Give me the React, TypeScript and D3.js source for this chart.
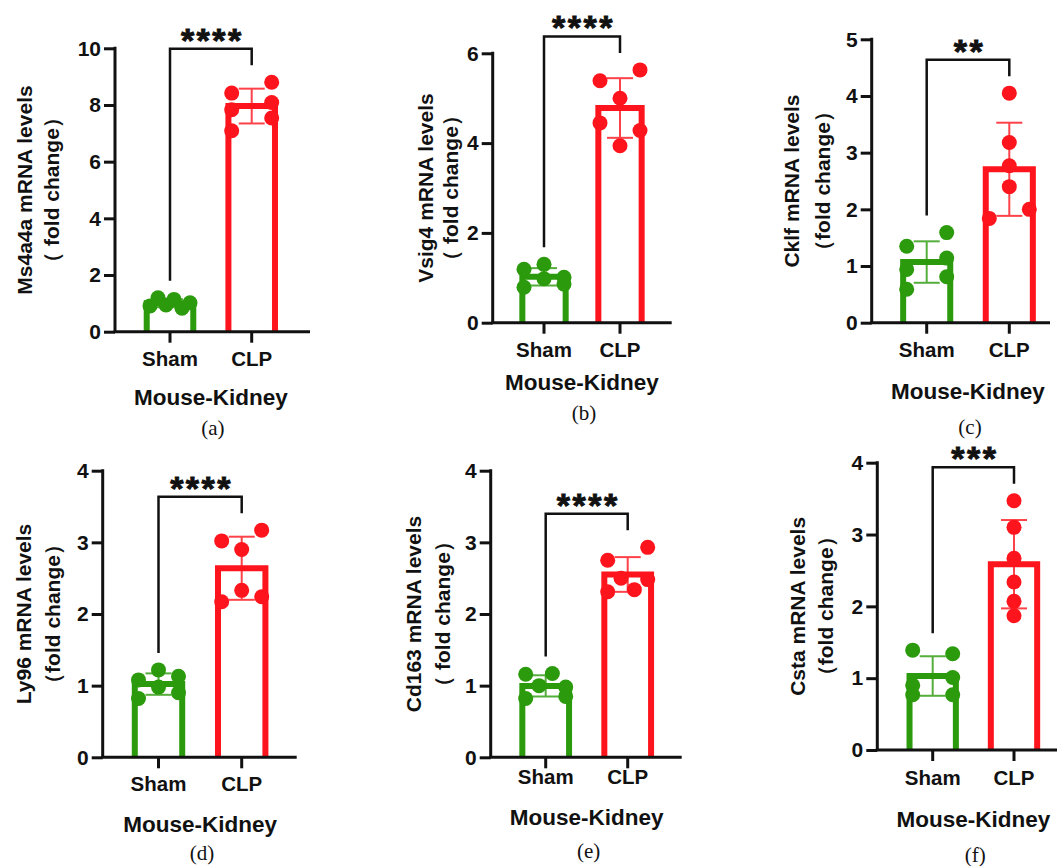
import React, { useEffect, useRef } from "react";
import * as d3 from "d3";

const groups = ["Sham", "CLP"];
const genes = ["Ms4a4a", "Vsig4", "Cklf", "Ly96", "Cd163", "Csta"];
const foldLabels = ["（ fold change）", "（ fold change）", "（fold change）", "（fold change）", "（ fold change）", "（fold change）"];
const panelTags = ["(a)", "(b)", "(c)", "(d)", "(e)", "(f)"];
const yMaxes = [10, 6, 5, 4, 4, 4];
const yTickSteps = [2, 2, 1, 1, 1, 1];
const significance = ["****", "****", "**", "****", "****", "***"];
const xTitle = "Mouse-Kidney";

// fold change per animal
const shamValues = [
    [0.91, 1.2, 0.94, 1.14, 0.83, 1.02],
    [1.19, 1.3, 1.01, 0.79, 0.98, 0.86],
    [1.35, 1.59, 0.94, 1.14, 0.59, 0.81],
    [1.08, 1.22, 1.13, 0.82, 0.98, 0.9],
    [1.16, 1.0, 1.17, 0.98, 0.82, 0.85],
    [1.39, 1.34, 0.9, 1.01, 0.77, 0.77],
];
const clpValues = [
    [8.42, 8.8, 7.83, 8.09, 7.09, 7.54],
    [5.39, 5.63, 5.0, 4.45, 4.28, 3.94],
    [4.05, 3.18, 2.77, 2.4, 1.84, 2.0],
    [3.02, 3.17, 2.9, 2.17, 2.33, 2.24],
    [2.75, 2.93, 2.31, 2.5, 2.34, 2.48],
    [3.47, 3.1, 2.67, 2.34, 2.07, 1.87],
];

// where each panel sits on the page
const frames = [
    { x0: 115, top: 48.3, bottom: 331.7, xEnd: 310, shamX: 170, clpX: 251.7, lab1: 24, lab2: 51, tickLabY: 366, titleY: 405, tagY: 435 },
    { x0: 492.7, top: 53.3, bottom: 322.7, xEnd: 671.7, shamX: 544, clpX: 620, lab1: 425, lab2: 450, tickLabY: 357, titleY: 390, tagY: 420 },
    { x0: 871.7, top: 39.3, bottom: 322.7, xEnd: 1050, shamX: 926.7, clpX: 1009.3, lab1: 791, lab2: 822, tickLabY: 357.3, titleY: 399.3, tagY: 434 },
    { x0: 102.7, top: 470.7, bottom: 757.3, xEnd: 296.7, shamX: 158.5, clpX: 241.7, lab1: 23.5, lab2: 52, tickLabY: 791, titleY: 832, tagY: 860 },
    { x0: 490.7, top: 470.7, bottom: 757.3, xEnd: 681.7, shamX: 545.7, clpX: 627.7, lab1: 413, lab2: 442, tickLabY: 784, titleY: 825, tagY: 858 },
    { x0: 877.3, top: 462.7, bottom: 750, xEnd: 1057, shamX: 932.7, clpX: 1014, lab1: 797, lab2: 825, tickLabY: 785, titleY: 827, tagY: 862 },
];

const colors = ["#2b9a0c", "#fe141c"];
const SANS = "'Liberation Sans', Arial, Helvetica, sans-serif";
const SERIF = "'Liberation Serif', 'Times New Roman', serif";
const R = 7.5;

// Prism-like scatter: points closer than ~2r vertically share a row and spread sideways
function spreadOffsets(values: number[], y: (v: number) => number, spread: number) {
    const order = d3.range(values.length).sort((i, j) => values[j] - values[i]);
    const off = values.map(() => 0);
    let k = 0;
    while (k < order.length) {
        const start = y(values[order[k]]);
        let m = k + 1;
        while (m < order.length && y(values[order[m]]) - start < 14) m++;
        const row = order.slice(k, m).sort((a, b) => a - b);
        if (row.length > 1) row.forEach((idx, t) => (off[idx] = -spread + (2 * spread * t) / (row.length - 1)));
        k = m;
    }
    return off;
}

export default function App() {
    const svgRef = useRef<SVGSVGElement>(null);

    useEffect(() => {
        if (!svgRef.current) return;
        const svg = d3.select(svgRef.current);
        svg.selectAll("*").remove();

        frames.forEach((f, p) => {
            const g = svg.append("g");
            const y = d3.scaleLinear().domain([0, yMaxes[p]]).range([f.bottom, f.top]);
            const x = d3.scalePoint<string>().domain(groups).range([f.shamX, f.clpX]);
            const step = f.clpX - f.shamX;
            const half = step * 0.285;
            const series = [shamValues[p], clpValues[p]];

            // bars, points, error bars
            series.forEach((vals, gi) => {
                const cx = x(groups[gi])!;
                const c = colors[gi];
                const mean = d3.mean(vals)!;
                const sd = d3.deviation(vals)!;
                g.append("path")
                    .attr("d", `M${cx - half},${f.bottom}V${y(mean)}H${cx + half}V${f.bottom}`)
                    .attr("fill", "#fff")
                    .attr("stroke", c)
                    .attr("stroke-width", 6)
                    .attr("stroke-linejoin", "miter");
                const offs = spreadOffsets(vals, y, 20);
                g.selectAll(null)
                    .data(vals)
                    .join("circle")
                    .attr("cx", (_, i) => cx + offs[i])
                    .attr("cy", (d) => y(d))
                    .attr("r", R)
                    .attr("fill", c);
                const eb = g.append("g").attr("stroke", c).attr("stroke-width", 2).attr("opacity", 0.8);
                eb.append("line").attr("x1", cx).attr("x2", cx).attr("y1", y(mean - sd)).attr("y2", y(mean + sd));
                [mean - sd, mean + sd].forEach((v) =>
                    eb.append("line").attr("x1", cx - 13).attr("x2", cx + 13).attr("y1", y(v)).attr("y2", y(v))
                );
            });

            // axes
            const yAxis = d3
                .axisLeft(y)
                .tickValues(d3.range(0, yMaxes[p] + 1e-9, yTickSteps[p]))
                .tickFormat(d3.format("d"))
                .tickSize(11)
                .tickPadding(3);
            const ya = g.append("g").attr("transform", `translate(${f.x0},0)`).call(yAxis);
            ya.select(".domain").remove();
            ya.selectAll(".tick line").attr("stroke", "#111").attr("stroke-width", 3);
            ya.selectAll(".tick text")
                .attr("fill", "#111")
                .attr("font-family", SANS)
                .attr("font-weight", "bold")
                .attr("font-size", 21);
            g.append("line")
                .attr("x1", f.x0).attr("x2", f.x0)
                .attr("y1", f.top - 1.5).attr("y2", f.bottom)
                .attr("stroke", "#111").attr("stroke-width", 3);
            g.append("line")
                .attr("x1", f.x0 - 1.5).attr("x2", f.xEnd)
                .attr("y1", f.bottom).attr("y2", f.bottom)
                .attr("stroke", "#111").attr("stroke-width", 3);
            groups.forEach((name) => {
                g.append("line")
                    .attr("x1", x(name)!).attr("x2", x(name)!)
                    .attr("y1", f.bottom).attr("y2", f.bottom + 11)
                    .attr("stroke", "#111").attr("stroke-width", 3);
                g.append("text")
                    .attr("x", x(name)!).attr("y", f.tickLabY)
                    .attr("text-anchor", "middle")
                    .attr("font-family", SANS).attr("font-weight", "bold").attr("font-size", 20.5)
                    .attr("fill", "#111")
                    .text(name);
            });

            // significance bracket
            const leftEnd = y(d3.max(shamValues[p])!) - 17;
            const rightEnd = y(d3.max(clpValues[p])!) - 17;
            const topY = Math.min(leftEnd, rightEnd) - 16.5;
            g.append("path")
                .attr("d", `M${f.shamX},${leftEnd}V${topY}H${f.clpX}V${rightEnd}`)
                .attr("fill", "none")
                .attr("stroke", "#111")
                .attr("stroke-width", 2.5);
            g.append("text")
                .attr("x", (f.shamX + f.clpX) / 2 + 1.5)
                .attr("y", topY + 3)
                .attr("text-anchor", "middle")
                .attr("font-family", SANS).attr("font-weight", "bold").attr("font-size", 34)
                .attr("letter-spacing", 2.5)
                .attr("fill", "#111")
                .attr("stroke", "#111")
                .attr("stroke-width", 0.9)
                .text(significance[p]);

            // titles
            const midY = (f.top + f.bottom) / 2;
            [
                [f.lab1, `${genes[p]} mRNA levels`],
                [f.lab2, foldLabels[p]],
            ].forEach(([lx, label]) => {
                g.append("text")
                    .attr("transform", `translate(${lx},${midY}) rotate(-90)`)
                    .attr("text-anchor", "middle")
                    .attr("dominant-baseline", "central")
                    .attr("font-family", SANS).attr("font-weight", "bold").attr("font-size", 21)
                    .attr("fill", "#111")
                    .text(label as string);
            });
            g.append("text")
                .attr("x", (f.shamX + f.clpX) / 2).attr("y", f.titleY)
                .attr("text-anchor", "middle")
                .attr("font-family", SANS).attr("font-weight", "bold").attr("font-size", 22.5)
                .attr("fill", "#111")
                .text(xTitle);
            g.append("text")
                .attr("x", (f.shamX + f.clpX) / 2 + 2).attr("y", f.tagY)
                .attr("text-anchor", "middle")
                .attr("font-family", SERIF).attr("font-size", 21)
                .attr("fill", "#111")
                .text(panelTags[p]);
        });
    }, []);

    return (
        <svg
            ref={svgRef}
            width={1059}
            height={866}
            style={{ position: "absolute", left: 0, top: 0, background: "#fff" }}
        />
    );
}
